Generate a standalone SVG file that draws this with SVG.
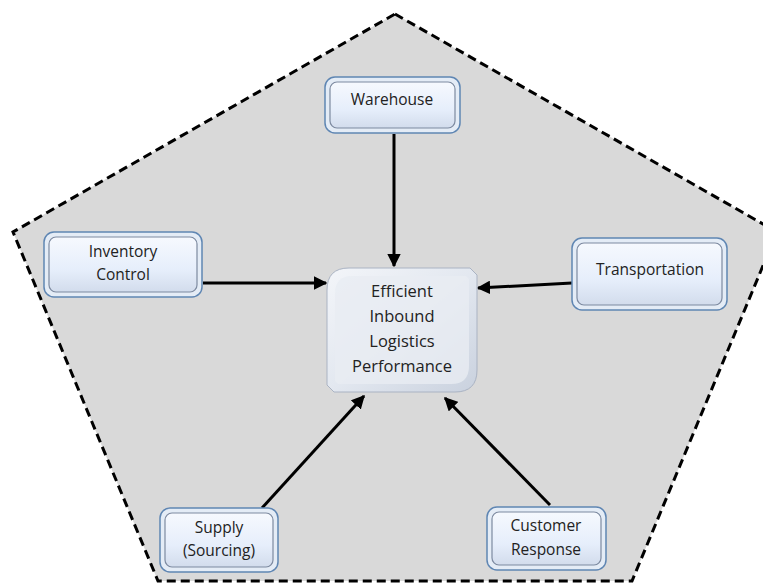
<svg xmlns="http://www.w3.org/2000/svg" width="763" height="584" viewBox="0 0 763 584">
  <defs>
    <linearGradient id="boxFill" x1="0" y1="0" x2="0" y2="1">
      <stop offset="0" stop-color="#f6f9fe"/>
      <stop offset="0.6" stop-color="#e6eefb"/>
      <stop offset="1" stop-color="#d2dcec"/>
    </linearGradient>
    <linearGradient id="centerFill" x1="0" y1="0" x2="1" y2="1">
      <stop offset="0" stop-color="#f3f5f9"/>
      <stop offset="0.5" stop-color="#e3e8f0"/>
      <stop offset="1" stop-color="#c9d1de"/>
    </linearGradient>
    <marker id="arrow" viewBox="0 0 10 10" refX="9" refY="5" markerWidth="4.5" markerHeight="4.5" orient="auto" markerUnits="strokeWidth">
      <path d="M0,0 L10,5 L0,10 z" fill="#000"/>
    </marker>
  </defs>
  <style>
    .outer { fill: #e4ecf6; stroke: #5f86b3; stroke-width: 1.5; }
    .inner { fill: url(#boxFill); stroke: #7d8aa0; stroke-width: 1.2; }
    .lbl { font-family: "Open Sans", "Liberation Sans", sans-serif; font-size: 15.5px; fill: #222; text-anchor: middle; }
    .clbl { font-family: "Open Sans", "Liberation Sans", sans-serif; font-size: 16.5px; fill: #222; text-anchor: middle; }
    .conn { stroke: #000; stroke-width: 3; fill: none; marker-end: url(#arrow); }
  </style>

  <polygon points="395,14 777,232 632,581 158,581 13,232" fill="#d9d9d9" stroke="#000" stroke-width="3" stroke-dasharray="9,5"/>

  <g id="connectors">
    <line class="conn" x1="394" y1="134" x2="394" y2="266"/>
    <line class="conn" x1="203" y1="283" x2="326" y2="283"/>
    <line class="conn" x1="572" y1="283" x2="478" y2="288"/>
    <line class="conn" x1="262" y1="508" x2="364" y2="396"/>
    <line class="conn" x1="550" y1="505" x2="445" y2="398"/>
  </g>

  <g id="center">
    <path d="M349,268 L470,268 L477,275 L477,370 Q477,392 455,392 L334,392 L327,385 L327,290 Q327,268 349,268 Z" fill="url(#centerFill)" stroke="#aab3c3" stroke-width="1"/>
    <path d="M352,276 L466,276 L469,279 L469,366 Q469,384 451,384 L338,384 L335,381 L335,294 Q335,276 352,276 Z" fill="#e8ecf3" opacity="0.8"/>
    <text class="clbl" x="402" y="297">Efficient</text>
    <text class="clbl" x="402" y="322">Inbound</text>
    <text class="clbl" x="402" y="347">Logistics</text>
    <text class="clbl" x="402" y="372">Performance</text>
  </g>

  <g id="warehouse">
    <rect class="outer" x="325" y="77" width="135" height="56" rx="10"/>
    <rect class="inner" x="330" y="82" width="125" height="46" rx="7"/>
    <text class="lbl" x="392" y="105">Warehouse</text>
  </g>

  <g id="inventory">
    <rect class="outer" x="44" y="232" width="158" height="65" rx="10"/>
    <rect class="inner" x="49" y="237" width="148" height="55" rx="7"/>
    <text class="lbl" x="123" y="257">Inventory</text>
    <text class="lbl" x="123" y="280">Control</text>
  </g>

  <g id="transportation">
    <rect class="outer" x="572" y="238" width="155" height="72" rx="10"/>
    <rect class="inner" x="577" y="243" width="145" height="62" rx="7"/>
    <text class="lbl" x="650" y="275">Transportation</text>
  </g>

  <g id="supply">
    <rect class="outer" x="160" y="508" width="118" height="64" rx="10"/>
    <rect class="inner" x="165" y="513" width="108" height="54" rx="7"/>
    <text class="lbl" x="219" y="533">Supply</text>
    <text class="lbl" x="219" y="556">(Sourcing)</text>
  </g>

  <g id="customer">
    <rect class="outer" x="487" y="507" width="119" height="63" rx="10"/>
    <rect class="inner" x="492" y="512" width="109" height="53" rx="7"/>
    <text class="lbl" x="546" y="531">Customer</text>
    <text class="lbl" x="546" y="555">Response</text>
  </g>
</svg>
